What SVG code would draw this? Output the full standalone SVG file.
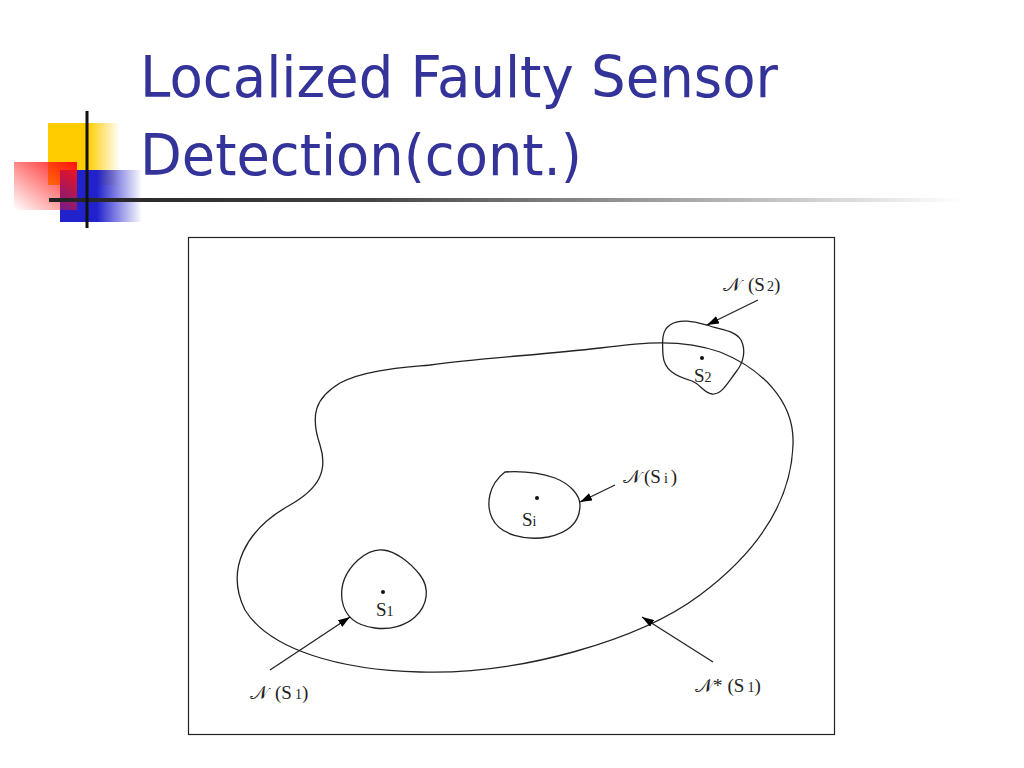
<svg xmlns="http://www.w3.org/2000/svg" width="1024" height="768" viewBox="0 0 1024 768">
<defs>
<linearGradient id="gY" x1="0" y1="0" x2="1" y2="0"><stop offset="0.55" stop-color="#FFCC00"/><stop offset="1" stop-color="#FFCC00" stop-opacity="0"/></linearGradient>
<linearGradient id="gR" x1="1" y1="0" x2="0" y2="1"><stop offset="0" stop-color="#FF1111"/><stop offset="1" stop-color="#FF1111" stop-opacity="0"/></linearGradient>
<linearGradient id="gB" x1="0" y1="0" x2="1" y2="0"><stop offset="0.45" stop-color="#2222CC"/><stop offset="1" stop-color="#2222CC" stop-opacity="0"/></linearGradient>
<linearGradient id="gL" x1="0" y1="0" x2="1" y2="0"><stop offset="0" stop-color="#222222"/><stop offset="0.35" stop-color="#444444"/><stop offset="1" stop-color="#444444" stop-opacity="0"/></linearGradient>
<marker id="ah" viewBox="0 0 12 8" refX="12" refY="4" markerWidth="12" markerHeight="8" markerUnits="userSpaceOnUse" orient="auto"><path d="M0,0 L12,4 L0,8 z" fill="#000"/></marker>
</defs>
<style>
.title{font-family:"DejaVu Sans","Liberation Sans",sans-serif;font-size:57px;fill:#333399}
.shape{fill:none;stroke:#222;stroke-width:1.3}
.lbl{font-family:"Liberation Serif","DejaVu Serif",serif;font-size:19px;fill:#222}
.sub{font-size:14px}
.arr{stroke:#222;stroke-width:1.3;fill:none;marker-end:url(#ah)}
</style>
<rect width="1024" height="768" fill="#fff"/>
<g id="decor">
<rect x="48" y="123" width="72" height="62" fill="url(#gY)"/>
<rect x="60" y="170" width="82" height="52" fill="url(#gB)"/>
<rect x="14" y="162" width="63" height="48" fill="url(#gR)"/>
<rect x="49" y="198" width="915" height="4" fill="url(#gL)"/>
<rect x="85.5" y="111" width="3" height="117" fill="#111"/>
</g>
<g id="title">
<text class="title" x="140" y="97" textLength="638" lengthAdjust="spacingAndGlyphs">Localized Faulty Sensor</text>
<text class="title" x="140" y="175" textLength="442" lengthAdjust="spacingAndGlyphs">Detection(cont.)</text>
</g>
<g id="frame"><rect x="188.5" y="237.5" width="646" height="497" fill="none" stroke="#222" stroke-width="1.2"/></g>
<g id="region-Nstar">
<path class="shape" d="M430 365 C480 358 540 355 600 348 C640 343 680 338 720 352 C760 368 795 400 793 445 C791 500 760 550 700 595 C640 640 520 675 420 672 C340 670 270 650 245 610 C225 570 245 530 290 505 C320 488 328 470 320 445 C310 415 315 398 340 383 C365 370 400 368 430 365 Z"/>
</g>
<g id="node-S2">
<path class="shape" d="M670 325 C680 318 695 322 707 325 C720 330 735 330 741 340 C746 350 744 362 736 372 C728 382 722 395 712 394 C704 393 700 384 692 381 C675 376 664 370 663 355 C662 340 662 330 670 325 Z"/>
<circle cx="702" cy="358" r="2" fill="#111"/>
<text class="lbl" x="694" y="382">S<tspan class="sub">2</tspan></text>
</g>
<g id="node-Si">
<path class="shape" d="M505 472 C520 471 540 473 555 478 C570 484 580 495 580 505 C580 520 572 532 548 537 C525 541 500 535 492 518 C486 505 488 485 505 472 Z"/>
<circle cx="537" cy="498" r="2" fill="#111"/>
<text class="lbl" x="522" y="526">S<tspan class="sub">i</tspan></text>
</g>
<g id="node-S1">
<path class="shape" d="M383 550 C395 551 410 562 420 575 C430 588 428 605 415 617 C405 626 390 630 375 628 C358 626 345 618 342 600 C340 585 345 572 358 560 C366 553 375 549 383 550 Z"/>
<circle cx="383" cy="592" r="2" fill="#111"/>
<text class="lbl" x="376" y="616">S<tspan class="sub">1</tspan></text>
</g>
<g id="labels">
<text class="lbl" x="723" y="291">𝒩<tspan dx="7">(S</tspan><tspan class="sub" dx="2">2</tspan>)</text>
<text class="lbl" x="623" y="483">𝒩<tspan dx="3">(S</tspan><tspan class="sub" dx="3">i</tspan><tspan dx="3">)</tspan></text>
<text class="lbl" x="250" y="699">𝒩<tspan dx="7">(S</tspan><tspan class="sub" dx="3">1</tspan>)</text>
<text class="lbl" x="695" y="692">𝒩*<tspan dx="5">(S</tspan><tspan class="sub" dx="3">1</tspan>)</text>
</g>
<g id="connectors">
<line class="arr" x1="758" y1="300" x2="707" y2="325"/>
<line class="arr" x1="615" y1="485" x2="580" y2="502"/>
<line class="arr" x1="270" y1="670" x2="350" y2="617"/>
<line class="arr" x1="713" y1="662" x2="642" y2="617"/>
</g>
</svg>
